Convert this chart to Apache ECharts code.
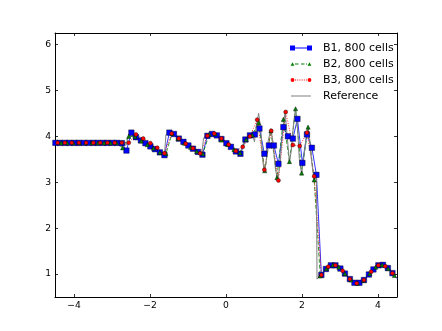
<!DOCTYPE html>
<html>
<head>
<meta charset="utf-8">
<script src="https://cdn.jsdelivr.net/npm/echarts@6/dist/echarts.min.js"></script>
<style>
  html, body { margin: 0; padding: 0; background: #fff; }
  #chart { width: 442px; height: 331px; }
</style>
</head>
<body>
<div id="chart"></div>
<script>
// tick labels
const xTicks = [-4, -2, 0, 2, 4]
const yTicks = [1, 2, 3, 4, 5, 6]

const seriesNames = ['B1, 800 cells', 'B2, 800 cells', 'B3, 800 cells', 'Reference']

// B1 markers (squares)
const b1X = [
  -4.49, -4.37, -4.24, -4.12, -3.99, -3.87, -3.74, -3.62, -3.49, -3.37,
  -3.24, -3.12, -2.99, -2.87, -2.74, -2.62, -2.49, -2.37, -2.24, -2.12,
  -1.99, -1.87, -1.74, -1.62, -1.49, -1.37, -1.24, -1.12, -0.99, -0.87,
  -0.74, -0.62, -0.49, -0.37, -0.24, -0.12, 0.01, 0.13, 0.26, 0.38,
  0.51, 0.63, 0.76, 0.88, 1.01, 1.13, 1.26, 1.38, 1.51, 1.63,
  1.76, 1.88, 2.01, 2.13, 2.26, 2.38, 2.51, 2.63, 2.76, 2.88,
  3.01, 3.13, 3.26, 3.38, 3.51, 3.63, 3.76, 3.88, 4.01, 4.13,
  4.26, 4.38, 4.51
]
const b1Y = [
  3.857, 3.857, 3.857, 3.857, 3.857, 3.857, 3.857, 3.857, 3.857, 3.857,
  3.857, 3.857, 3.857, 3.857, 3.85, 3.69, 4.08, 3.98, 3.91, 3.85,
  3.78, 3.72, 3.65, 3.59, 4.08, 4.05, 3.95, 3.88, 3.80, 3.73,
  3.66, 3.60, 4.01, 4.05, 4.02, 3.94, 3.85, 3.77, 3.67, 3.62,
  3.93, 4.02, 4.04, 4.17, 3.62, 3.80, 3.80, 3.40, 4.20, 4.00,
  3.95, 4.38, 3.42, 4.04, 3.75, 3.16, 0.98, 1.11, 1.19, 1.19,
  1.12, 1.01, 0.89, 0.81, 0.81, 0.87, 0.99, 1.10, 1.19, 1.20,
  1.13, 1.02, 0.90
]

// B2 markers (triangles)
const b2X = [
  -4.34, -4.18, -4.02, -3.86, -3.69, -3.53, -3.37, -3.21, -3.04, -2.88,
  -2.72, -2.56, -2.39, -2.23, -2.07, -1.91, -1.74, -1.58, -1.42, -1.26,
  -1.09, -0.93, -0.77, -0.61, -0.44, -0.28, -0.12, 0.04, 0.21, 0.37,
  0.53, 0.69, 0.86, 1.02, 1.18, 1.34, 1.51, 1.67, 1.83, 1.99,
  2.16, 2.32, 2.48, 2.64, 2.81, 2.97, 3.13, 3.29, 3.46, 3.62,
  3.78, 3.94, 4.11, 4.27, 4.43
]
const b2Y = [
  3.857, 3.857, 3.857, 3.857, 3.857, 3.857, 3.857, 3.857, 3.857, 3.857,
  3.75, 4.00, 3.99, 3.90, 3.82, 3.74, 3.65, 3.62, 4.06, 3.95,
  3.85, 3.76, 3.67, 3.62, 4.04, 4.05, 3.92, 3.82, 3.71, 3.64,
  3.93, 4.03, 4.30, 3.25, 4.12, 3.10, 4.37, 3.45, 4.60, 3.20,
  4.20, 3.05, 0.96, 1.12, 1.20, 1.15, 1.01, 0.87, 0.80, 0.86,
  1.01, 1.15, 1.20, 1.12, 0.97
]

// B3 markers (circles)
const b3X = [
  -4.43, -4.24, -4.06, -3.87, -3.68, -3.49, -3.31, -3.12, -2.93, -2.74,
  -2.56, -2.37, -2.18, -1.99, -1.81, -1.62, -1.43, -1.24, -1.06, -0.87,
  -0.68, -0.49, -0.31, -0.12, 0.07, 0.26, 0.44, 0.63, 0.82, 1.01,
  1.19, 1.38, 1.57, 1.76, 1.94, 2.13, 2.32, 2.51, 2.69, 2.88,
  3.07, 3.26, 3.44, 3.63, 3.82, 4.01, 4.19, 4.38
]
const b3Y = [
  3.857, 3.857, 3.857, 3.857, 3.857, 3.857, 3.857, 3.857, 3.857, 3.857,
  3.86, 4.04, 3.95, 3.85, 3.75, 3.63, 4.06, 3.95, 3.84, 3.74,
  3.63, 4.01, 4.06, 3.95, 3.82, 3.68, 3.77, 4.00, 4.36, 3.27,
  4.12, 3.04, 4.53, 3.81, 3.79, 4.08, 3.13, 0.98, 1.16, 1.19,
  1.07, 0.89, 0.80, 0.87, 1.05, 1.19, 1.17, 1.02
]

// reference solution
const refX = [
  -4.5, -2.70, -2.63, -2.58, -2.55, -2.50, -1.62, -1.58, -1.52, -1.45,
  -0.64, -0.59, -0.52, -0.40, -0.30, 0.35, 0.40, 0.46, 0.54, 0.62,
  0.70, 0.75, 0.79, 0.86, 0.92, 0.97, 1.01, 1.05, 1.11, 1.18,
  1.24, 1.30, 1.36, 1.42, 1.49, 1.556, 1.61, 1.67, 1.72, 1.78,
  1.83, 1.88, 1.93, 1.99, 2.05, 2.11, 2.154, 2.20, 2.26, 2.32,
  2.38, 2.395, 2.5, 2.6, 2.7, 2.8, 2.9, 3.0, 3.1, 3.2,
  3.3, 3.4, 3.5, 3.6, 3.7, 3.8, 3.9, 4.0, 4.1, 4.2,
  4.3, 4.4, 4.5
]
const refY = [
  3.857, 3.857, 3.80, 3.84, 4.06, 4.08, 3.59, 4.04, 4.08, 4.07,
  3.60, 3.96, 4.03, 4.06, 4.05, 3.62, 3.70, 3.85, 3.97, 4.02,
  4.04, 3.88, 4.20, 4.50, 4.10, 3.45, 3.22, 3.40, 3.90, 4.16,
  3.85, 3.30, 3.03, 3.40, 4.10, 4.54, 4.00, 3.44, 3.70, 4.30,
  4.61, 4.20, 3.50, 3.19, 3.55, 4.00, 4.21, 3.95, 3.40, 3.04,
  3.10, 0.89, 0.99, 1.08, 1.16, 1.20, 1.19, 1.13, 1.04, 0.94,
  0.86, 0.81, 0.80, 0.85, 0.93, 1.03, 1.12, 1.18, 1.20, 1.17,
  1.09, 1.00, 0.90
]

const pairs = ( xs, ys ) => xs.map( ( x, i ) => [x, ys[i]] )
const fmtNum = v => String( v ).replace( '-', '\u2212' )

const font = 'DejaVu Sans'
const tickStyle = { show : true, inside : true, length : 3, lineStyle : { color : '#000', width : 0.8 }}

// legend handles: two markers joined by the line style, drawn in a 28 x 6 box (handle uses 0..22)
const corners = 'M0,0h0.01v0.01h-0.01z M27.99,5.99h0.01v0.01h-0.01z '
const legendIcons = [
  'path://' + corners + 'M0,0.5h5v5h-5z M5,2.6h12v0.8h-12z M17,0.5h5v5h-5z',
  'path://' + corners + 'M0.6,4.8L2.5,1.2L4.4,4.8z M17.6,4.8L19.5,1.2L21.4,4.8z M5,2.6h3.5v0.8h-3.5z M11,2.6h3.5v0.8h-3.5z M16,2.6h1v0.8h-1z',
  'path://' + corners + 'M0.6,3a1.9,1.9 0 1,0 3.8,0a1.9,1.9 0 1,0 -3.8,0z M17.6,3a1.9,1.9 0 1,0 3.8,0a1.9,1.9 0 1,0 -3.8,0z M5,2.6h1v0.8h-1z M7.2,2.6h1v0.8h-1z M9.4,2.6h1v0.8h-1z M11.6,2.6h1v0.8h-1z M13.8,2.6h1v0.8h-1z M16,2.6h1v0.8h-1z',
  'path://' + corners + 'M1,2.5h20v1h-20z'
]

const chart = echarts.init( document.getElementById( 'chart' ), null, { renderer : 'canvas' } )

chart.setOption( {
  animation : false,
  backgroundColor : '#fff',
  grid : { left : 55, right : 45, top : 33, bottom : 34 },
  legend : {
    orient : 'vertical',
    left : 285,
    top : 37,
    itemWidth : 28,
    itemHeight : 6,
    itemGap : 4,
    selectedMode : false,
    textStyle : { color : '#000', fontFamily : font, fontSize : 11, lineHeight : 12 },
    data : seriesNames.map( ( name, i ) => ( {
      name,
      icon : legendIcons[i],
      itemStyle : { borderWidth : 0 }
    } ) )
  },
  xAxis : [
    {
      type : 'value', min : -4.5, max : 4.5, position : 'bottom',
      axisLine : { show : true, onZero : false, lineStyle : { color : '#000', width : 1 }},
      axisTick : { ...tickStyle, customValues : xTicks },
      axisLabel : { customValues : xTicks, formatter : fmtNum, color : '#000', fontFamily : font, fontSize : 9.2, margin : 4 },
      splitLine : { show : false }
    },
    {
      type : 'value', min : -4.5, max : 4.5, position : 'top',
      axisLine : { show : true, onZero : false, lineStyle : { color : '#000', width : 1 }},
      axisTick : { ...tickStyle, customValues : xTicks },
      axisLabel : { show : false },
      splitLine : { show : false }
    }
  ],
  yAxis : [
    {
      type : 'value', min : 0.5, max : 6.25, position : 'left',
      axisLine : { show : true, onZero : false, lineStyle : { color : '#000', width : 1 }},
      axisTick : { ...tickStyle, customValues : yTicks },
      axisLabel : { customValues : yTicks, formatter : fmtNum, color : '#000', fontFamily : font, fontSize : 9.2, margin : 4 },
      splitLine : { show : false }
    },
    {
      type : 'value', min : 0.5, max : 6.25, position : 'right',
      axisLine : { show : true, onZero : false, lineStyle : { color : '#000', width : 1 }},
      axisTick : { ...tickStyle, customValues : yTicks },
      axisLabel : { show : false },
      splitLine : { show : false }
    }
  ],
  series : [
    {
      name : seriesNames[0], type : 'line', data : pairs( b1X, b1Y ),
      symbol : 'rect', symbolSize : 5.5, showAllSymbol : true, clip : true,
      lineStyle : { color : '#0000ff', width : 0.8 },
      itemStyle : { color : '#0000ff', borderColor : '#000', borderWidth : 0.4 },
      emphasis : { disabled : true }
    },
    {
      name : seriesNames[1], type : 'line', data : pairs( b2X, b2Y ),
      symbol : 'triangle', symbolSize : 4.2, showAllSymbol : true, clip : true,
      lineStyle : { color : '#008000', width : 0.8, type : [4, 2] },
      itemStyle : { color : '#008000', borderColor : '#000', borderWidth : 0.4 },
      emphasis : { disabled : true }
    },
    {
      name : seriesNames[2], type : 'line', data : pairs( b3X, b3Y ),
      symbol : 'circle', symbolSize : 4, showAllSymbol : true, clip : true,
      lineStyle : { color : '#ff0000', width : 0.8, type : [1, 1.5] },
      itemStyle : { color : '#ff0000', borderColor : '#000', borderWidth : 0.4 },
      emphasis : { disabled : true }
    },
    {
      name : seriesNames[3], type : 'line', data : pairs( refX, refY ),
      symbol : 'none', clip : true,
      lineStyle : { color : '#808080', width : 1 },
      itemStyle : { color : '#808080' },
      emphasis : { disabled : true }
    }
  ]
} )
</script>
</body>
</html>
